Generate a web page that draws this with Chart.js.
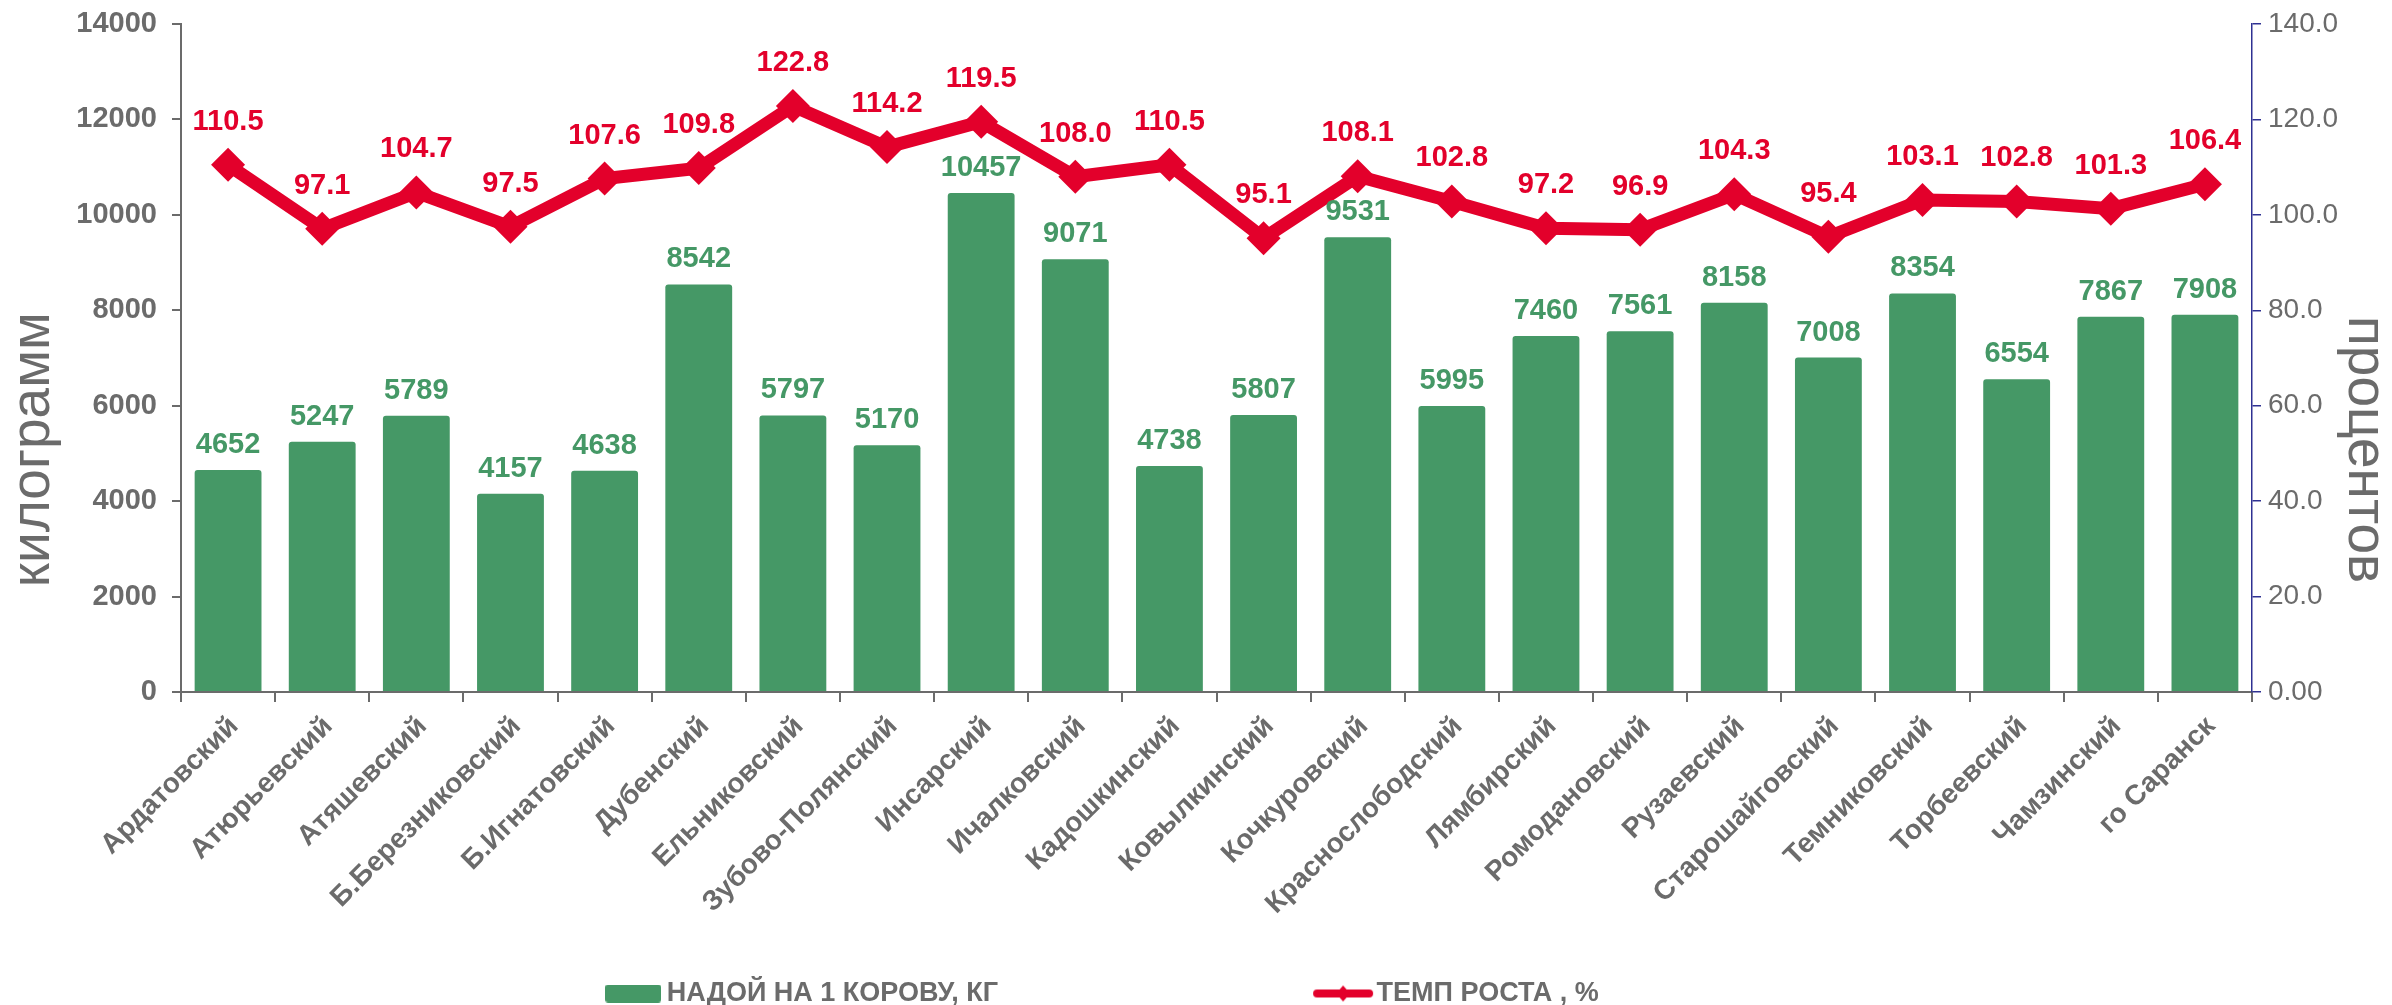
<!DOCTYPE html>
<html>
<head>
<meta charset="utf-8">
<script src="https://cdn.jsdelivr.net/npm/chart.js@4"></script>
<style>
  body { margin: 0; background: #fff; }
  canvas { display: block; }
</style>
</head>
<body>
<canvas id="milkChart" width="2392" height="1005"></canvas>
<script>
const districts = [
  "Ардатовский", "Атюрьевский", "Атяшевский", "Б.Березниковский", "Б.Игнатовский",
  "Дубенский", "Ельниковский", "Зубово-Полянский", "Инсарский", "Ичалковский",
  "Кадошкинский", "Ковылкинский", "Кочкуровский", "Краснослободский", "Лямбирский",
  "Ромодановский", "Рузаевский", "Старошайговский", "Темниковский", "Торбеевский",
  "Чамзинский", "го Саранск"
];
const milkPerCow = [
  4652, 5247, 5789, 4157, 4638, 8542, 5797, 5170, 10457, 9071, 4738,
  5807, 9531, 5995, 7460, 7561, 8158, 7008, 8354, 6554, 7867, 7908
];
const growthRate = [
  110.5, 97.1, 104.7, 97.5, 107.6, 109.8, 122.8, 114.2, 119.5, 108.0, 110.5,
  95.1, 108.1, 102.8, 97.2, 96.9, 104.3, 95.4, 103.1, 102.8, 101.3, 106.4
];
const barLabel = "НАДОЙ НА 1 КОРОВУ, КГ";
const lineLabel = "ТЕМП РОСТА , %";

const GREEN = "#459866";
const RED = "#E3002B";
const GREY = "#6b6b6b";
const NAVY = "#2E3192";
const FONT = '"Liberation Sans", Arial, sans-serif';
const LEGEND_FONT = "bold 27px " + FONT;
const TITLE_FONT = "55px " + FONT;

// pad a string with spaces until it is `width` px wide (keeps the legend / titles off-centre like the source)
const measureCtx = document.createElement("canvas").getContext("2d");
function padTo(text, font, width, before) {
  measureCtx.font = font;
  let s = text;
  while (measureCtx.measureText(s).width < width) {
    s = before ? " " + s : s + " ";
  }
  return s;
}
function padBy(text, font, extra, before) {
  measureCtx.font = font;
  return padTo(text, font, measureCtx.measureText(text).width + extra, before);
}

// little pictures for the legend
function makeIcon(w, h, draw) {
  const c = document.createElement("canvas");
  c.width = w;
  c.height = h;
  draw(c.getContext("2d"));
  return c;
}
const barIcon = makeIcon(56, 18, (ctx) => {
  ctx.fillStyle = GREEN;
  ctx.beginPath();
  ctx.roundRect(0, 0, 56, 18, 3);
  ctx.fill();
});
const lineIcon = makeIcon(62, 22, (ctx) => {
  ctx.strokeStyle = RED;
  ctx.lineWidth = 8;
  ctx.lineCap = "round";
  ctx.beginPath();
  ctx.moveTo(5, 11);
  ctx.lineTo(57, 11);
  ctx.stroke();
  ctx.fillStyle = RED;
  ctx.beginPath();
  ctx.moveTo(31, 3);
  ctx.lineTo(38, 11);
  ctx.lineTo(31, 19);
  ctx.lineTo(24, 11);
  ctx.closePath();
  ctx.fill();
});

// value labels above bars and points
const valueLabels = {
  id: "valueLabels",
  afterDatasetsDraw(chart) {
    const ctx = chart.ctx;
    chart.data.datasets.forEach((ds, i) => {
      const meta = chart.getDatasetMeta(i);
      const isLine = ds.type === "line";
      ctx.save();
      ctx.font = "bold 29px " + FONT;
      ctx.fillStyle = isLine ? RED : GREEN;
      ctx.textAlign = "center";
      ctx.textBaseline = "middle";
      meta.data.forEach((el, j) => {
        const txt = isLine ? ds.data[j].toFixed(1) : String(ds.data[j]);
        ctx.fillText(txt, el.x, el.y - (isLine ? 43 : 25));
      });
      ctx.restore();
    });
  },
};

const ctx = document.getElementById("milkChart").getContext("2d");
new Chart(ctx, {
  data: {
    labels: districts,
    datasets: [
      {
        type: "bar",
        label: barLabel,
        data: milkPerCow,
        backgroundColor: GREEN,
        borderRadius: 3,
        barPercentage: 0.71,
        categoryPercentage: 1,
        yAxisID: "y",
        order: 2,
      },
      {
        type: "line",
        label: lineLabel,
        data: growthRate,
        borderColor: RED,
        backgroundColor: RED,
        borderWidth: 13,
        pointStyle: "rectRot",
        pointRadius: 17,
        pointBorderWidth: 0,
        pointBackgroundColor: RED,
        tension: 0,
        yAxisID: "y1",
        order: 1,
      },
    ],
  },
  options: {
    responsive: false,
    animation: false,
    layout: { padding: { top: 24, left: 0, right: 0, bottom: 0 } },
    scales: {
      x: {
        grid: { drawOnChartArea: false, tickLength: 10, color: GREY, lineWidth: 2 },
        border: { color: GREY, width: 2 },
        ticks: {
          autoSkip: false,
          maxRotation: 45,
          minRotation: 45,
          padding: 8,
          labelOffset: 6,
          color: GREY,
          font: { family: FONT, size: 28, weight: "bold" },
        },
        afterFit: (scale) => { scale.height = 278; },
      },
      y: {
        position: "left",
        min: 0,
        max: 14000,
        ticks: {
          stepSize: 2000,
          padding: 15,
          color: GREY,
          font: { family: FONT, size: 29, weight: "bold" },
          callback: (v) => String(v),
        },
        grid: { drawOnChartArea: false, tickLength: 9, color: GREY, lineWidth: 2 },
        border: { color: GREY, width: 2 },
        title: {
          display: true,
          text: padBy("килограмм", TITLE_FONT, 180, false),
          color: GREY,
          padding: { top: 6, bottom: 0 },
          font: { family: FONT, size: 55, lineHeight: 1 },
        },
        afterFit: (scale) => {
          scale.width = 181;
          scale.paddingTop = 0;
        },
      },
      y1: {
        position: "right",
        min: 0,
        max: 140,
        ticks: {
          stepSize: 20,
          padding: 7,
          color: GREY,
          font: { family: FONT, size: 28 },
          callback: (v) => (v === 0 ? "0.00" : v.toFixed(1)),
        },
        grid: { drawOnChartArea: false, tickLength: 9, color: NAVY, lineWidth: 1.5 },
        border: { color: NAVY, width: 1.5 },
        title: {
          display: true,
          text: padBy("процентов", TITLE_FONT, 180, true),
          color: GREY,
          padding: { top: 0, bottom: 0 },
          font: { family: FONT, size: 55, lineHeight: 1 },
        },
        afterFit: (scale) => {
          scale.width = 140;
          scale.paddingTop = 0;
        },
      },
    },
    plugins: {
      tooltip: { enabled: false },
      legend: {
        position: "bottom",
        maxHeight: 35,
        labels: {
          usePointStyle: true,
          pointStyleWidth: 40,
          padding: 10,
          color: GREY,
          font: { family: FONT, size: 27, weight: "bold" },
          generateLabels: (chart) =>
            chart.data.datasets.map((ds, i) => ({
              text: padTo(ds.label, LEGEND_FONT, i === 0 ? 646 : 401, false),
              pointStyle: i === 0 ? barIcon : lineIcon,
              fillStyle: ds.backgroundColor,
              strokeStyle: ds.backgroundColor,
              lineWidth: 0,
              fontColor: GREY,
              hidden: false,
              datasetIndex: i,
            })),
        },
      },
    },
  },
  plugins: [valueLabels],
});
</script>
</body>
</html>
